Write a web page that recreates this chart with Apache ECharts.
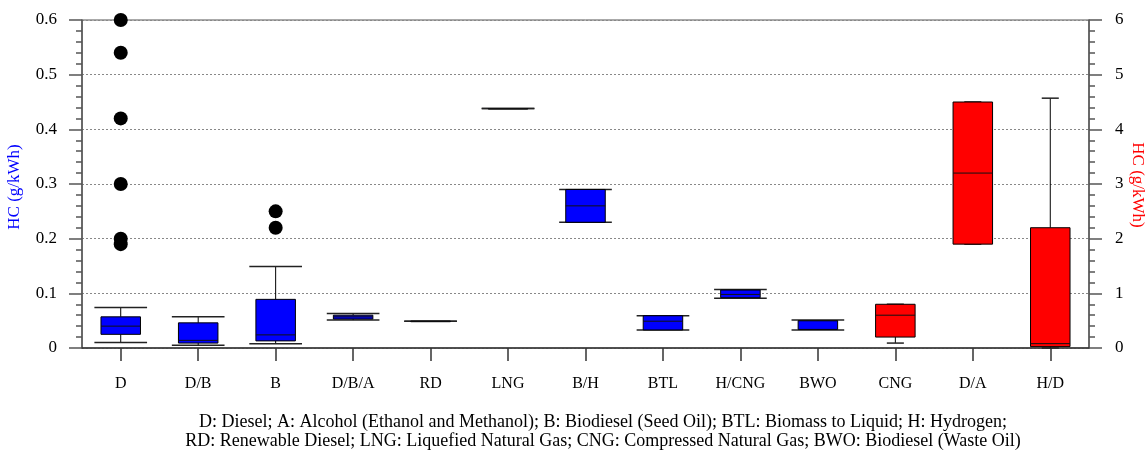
<!DOCTYPE html>
<html>
<head>
<meta charset="utf-8">
<script src="https://cdn.jsdelivr.net/npm/echarts@6/dist/echarts.min.js"></script>
<style>
  html, body { margin: 0; padding: 0; background: #fff; }
  #chart { width: 1145px; height: 450px; }
</style>
</head>
<body>
<div id="chart"></div>
<script>
// Fuel categories along the x axis
const categories = ['D', 'D/B', 'B', 'D/B/A', 'RD', 'LNG', 'B/H', 'BTL', 'H/CNG', 'BWO', 'CNG', 'D/A', 'H/D'];

// Left-axis fuels (blue): [min, Q1, median, Q3, max] in g/kWh
const blueCats = ['D', 'D/B', 'B', 'D/B/A', 'RD', 'LNG', 'B/H', 'BTL', 'H/CNG', 'BWO'];
const blueStats = [
  [0.010, 0.025, 0.040, 0.057, 0.074],
  [0.005, 0.009, 0.014, 0.046, 0.057],
  [0.008, 0.013, 0.024, 0.089, 0.149],
  [0.051, 0.053, 0.057, 0.060, 0.063],
  [0.049, 0.049, 0.049, 0.049, 0.049],
  [0.438, 0.438, 0.438, 0.438, 0.438],
  [0.230, 0.230, 0.260, 0.290, 0.290],
  [0.033, 0.033, 0.049, 0.059, 0.059],
  [0.091, 0.092, 0.098, 0.106, 0.107],
  [0.033, 0.034, 0.050, 0.050, 0.051]
];

// Right-axis fuels (red): [min, Q1, median, Q3, max] in g/kWh
const redCats = ['CNG', 'D/A', 'H/D'];
const redStats = [
  [0.09, 0.20, 0.60, 0.80, 0.80],
  [1.90, 1.90, 3.20, 4.50, 4.50],
  [0.00, 0.025, 0.08, 2.20, 4.57]
];

// Outliers (left axis)
const outlierCats = ['D', 'D', 'D', 'D', 'D', 'D', 'B', 'B'];
const outlierVals = [0.60, 0.54, 0.42, 0.30, 0.20, 0.19, 0.25, 0.22];

// Axis ticks
const leftTicks = { min: 0, max: 0.6, step: 0.1 };
const rightTicks = { min: 0, max: 6, step: 1 };

// Axis titles
const leftTitle = 'HC (g/kWh)';
const rightTitle = 'HC (g/kWh)';

// Legend caption under the chart
const captionLines = [
  'D: Diesel; A: Alcohol (Ethanol and Methanol); B: Biodiesel (Seed Oil); BTL: Biomass to Liquid; H: Hydrogen;',
  'RD: Renewable Diesel; LNG: Liquefied Natural Gas; CNG: Compressed Natural Gas; BWO: Biodiesel (Waste Oil)'
];

const SERIF = "'Liberation Serif', 'Times New Roman', serif";

function toBoxData(cats, stats) {
  return cats.map((c, i) => [categories.indexOf(c)].concat(stats[i]));
}

function makeBoxRenderer(fill, capRatio) {
  return function (params, api) {
    const x = api.value(0);
    const lo = api.coord([x, api.value(1)]);
    const q1 = api.coord([x, api.value(2)]);
    const md = api.coord([x, api.value(3)]);
    const q3 = api.coord([x, api.value(4)]);
    const hi = api.coord([x, api.value(5)]);
    const band = api.size([1, 0])[0];
    const bw = band * 0.51;
    const cw = band * capRatio;
    const cx = lo[0];
    const children = [];
    const line = (x1, y1, x2, y2, color, w) => ({
      type: 'line',
      shape: { x1, y1, x2, y2 },
      style: { stroke: color, lineWidth: w }
    });
    // whiskers
    if (hi[1] < q3[1]) children.push(line(cx, hi[1], cx, q3[1], '#000', 1));
    if (lo[1] > q1[1]) children.push(line(cx, q1[1], cx, lo[1], '#000', 1));
    // caps
    children.push(line(cx - cw / 2, hi[1], cx + cw / 2, hi[1], '#222', 1.5));
    children.push(line(cx - cw / 2, lo[1], cx + cw / 2, lo[1], '#222', 1.5));
    // box
    children.push({
      type: 'rect',
      shape: { x: cx - bw / 2, y: q3[1], width: bw, height: Math.max(q1[1] - q3[1], 0.5) },
      style: { fill: fill, stroke: '#000', lineWidth: 1 }
    });
    // median
    children.push(line(cx - bw / 2, md[1], cx + bw / 2, md[1], '#111', 1));
    return { type: 'group', children };
  };
}

const chart = echarts.init(document.getElementById('chart'), null, { renderer: 'canvas' });

function axisTick() {
  return { show: true, length: 13, inside: false, lineStyle: { color: '#555', width: 1.5 } };
}
function minorTick() {
  return { show: true, splitNumber: 5, length: 6, lineStyle: { color: '#555', width: 1.5 } };
}

const captionGraphics = captionLines.map((t, i) => ({
  type: 'text',
  x: 603,
  y: 422 + i * 19,
  style: {
    text: t,
    font: '18px ' + SERIF,
    fill: '#000',
    align: 'center',
    verticalAlign: 'middle'
  }
}));

const titleGraphics = [
  {
    type: 'text', x: 15, y: 187, rotation: Math.PI / 2,
    style: { text: leftTitle, font: '17px ' + SERIF, fill: '#0000ff', align: 'center', verticalAlign: 'middle' }
  },
  {
    type: 'text', x: 1137, y: 185, rotation: -Math.PI / 2,
    style: { text: rightTitle, font: '17px ' + SERIF, fill: '#ff0000', align: 'center', verticalAlign: 'middle' }
  }
];

chart.setOption({
  animation: false,
  backgroundColor: '#fff',
  grid: {
    left: 82, right: 56, top: 20, bottom: 102,
    containLabel: false,
    outerBoundsMode: 'none',
    show: true, borderColor: '#555', borderWidth: 1, backgroundColor: 'transparent'
  },
  xAxis: {
    type: 'category',
    data: categories,
    boundaryGap: true,
    axisLine: { lineStyle: { color: '#333', width: 1.5 } },
    axisTick: { show: true, alignWithLabel: true, length: 13, lineStyle: { color: '#333', width: 1.5 } },
    axisLabel: { margin: 28, fontFamily: SERIF, fontSize: 16, color: '#000' },
    splitLine: { show: false }
  },
  yAxis: [
    {
      type: 'value',
      position: 'left',
      min: leftTicks.min, max: leftTicks.max, interval: leftTicks.step,
      axisLine: { show: true, lineStyle: { color: '#555', width: 1.5 } },
      axisTick: axisTick(),
      minorTick: minorTick(),
      axisLabel: {
        margin: 25, fontFamily: SERIF, fontSize: 17, color: '#000',
        formatter: v => (v === 0 ? '0' : v.toFixed(1))
      },
      splitLine: { show: true, lineStyle: { color: '#888', type: [2, 2], width: 1 } }
    },
    {
      type: 'value',
      position: 'right',
      min: rightTicks.min, max: rightTicks.max, interval: rightTicks.step,
      axisLine: { show: true, lineStyle: { color: '#555', width: 1.5 } },
      axisTick: axisTick(),
      minorTick: minorTick(),
      axisLabel: { margin: 26, fontFamily: SERIF, fontSize: 17, color: '#000' },
      splitLine: { show: false }
    }
  ],
  series: [
    {
      type: 'custom',
      name: 'left boxes',
      yAxisIndex: 0,
      renderItem: makeBoxRenderer('#0000ff', 0.68),
      encode: { x: 0, y: [1, 2, 3, 4, 5] },
      data: toBoxData(blueCats, blueStats),
      clip: false,
      z: 3
    },
    {
      type: 'custom',
      name: 'right boxes',
      yAxisIndex: 1,
      renderItem: makeBoxRenderer('#ff0000', 0.22),
      encode: { x: 0, y: [1, 2, 3, 4, 5] },
      data: toBoxData(redCats, redStats),
      clip: false,
      z: 3
    },
    {
      type: 'scatter',
      name: 'outliers',
      yAxisIndex: 0,
      symbol: 'circle',
      symbolSize: 14,
      itemStyle: { color: '#000', opacity: 1 },
      data: outlierCats.map((c, i) => [c, outlierVals[i]]),
      clip: false,
      z: 4
    }
  ],
  graphic: titleGraphics.concat(captionGraphics)
});
</script>
</body>
</html>
